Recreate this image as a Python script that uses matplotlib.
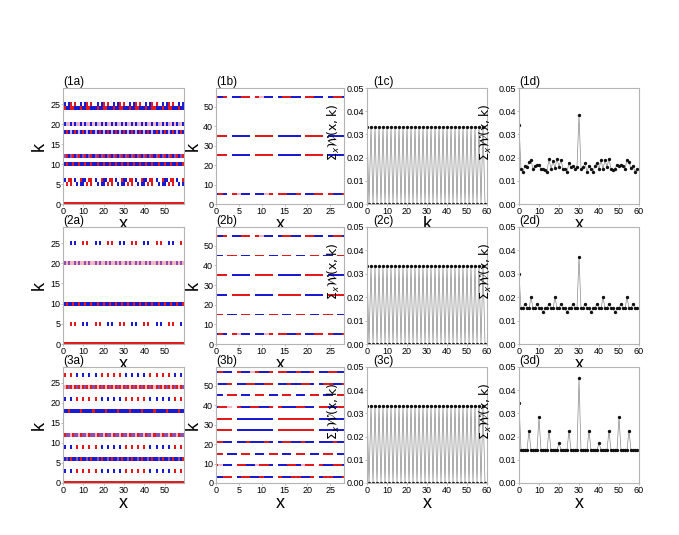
import numpy as np
import matplotlib
matplotlib.use('Agg')
import matplotlib.pyplot as plt
from matplotlib.colors import ListedColormap, BoundaryNorm

plt.rcParams['font.family'] = ['Liberation Sans', 'DejaVu Sans']
plt.rcParams['mathtext.fontset'] = 'dejavusans'

# colour codes used in the density maps
# 0 white, 1 red, 2 blue, 3 pink, 4 purple, 5 light purple, 6 navy
CODE_COLORS = ['#ffffff', '#e3191c', '#1a1ad2', '#f5b5c5', '#8c4fb0', '#cdb0e6', '#1c1a8a']

# ---------------- (1a) ----------------
A1_rows = [0, 5, 6, 10, 12, 18, 20, 24, 25]
A1_patterns = [
    [1],
    [2, 0, 1, 0, 1, 0, 0, 2, 0, 2],
    [2, 2, 0, 1, 1, 0, 2, 0, 0, 1],
    [2, 2, 1],
    [2, 4, 1],
    [5, 2, 1, 2],
    [3, 2, 5, 3, 2],
    [2, 1, 2, 2, 1, 1, 2, 2],
    [0, 2, 0, 2, 1, 0, 1, 0],
]
# ---------------- (2a) ----------------
A2_rows = [0, 5, 10, 20, 25]
A2_patterns = [
    [1],
    [2, 0, 0, 0, 1, 0, 1, 0, 0, 0, 2, 0],
    [2, 2, 1],
    [3, 4, 3, 4, 3],
    [1, 0, 0, 0, 2, 0, 2, 0, 0, 0, 1, 0],
]
# ---------------- (3a) ----------------
A3_rows = [0, 3, 6, 9, 12, 18, 21, 24, 27]
A3_patterns = [
    [1],
    [0, 2, 0, 0, 2, 0, 0, 1, 0, 0, 1, 0, 0, 1, 0, 0, 1, 0, 0, 2, 0, 0, 2, 0],
    [2, 2, 4, 2, 1],
    [0, 2, 0, 0, 2, 0, 0, 1, 0, 0, 1, 0, 0, 1, 0, 0, 1, 0, 0, 2, 0, 0, 2, 0],
    [3, 1, 4, 4],
    [2, 2, 2, 1, 2, 2],
    [0, 2, 0, 0, 2, 0, 0, 1, 0, 0, 1, 0, 0, 1, 0, 0, 1, 0, 0, 2, 0, 0, 2, 0],
    [1, 3, 1, 4],
    [0, 1, 0, 0, 1, 0, 0, 2, 0, 0, 2, 0, 0, 2, 0, 0, 2, 0, 0, 1, 0, 0, 1, 0],
]
# ---------------- (1b) ----------------
B1_rows = [5, 25, 35, 55]
B1_patterns = [
    [2, 1, 2, 0, 1, 3, 2, 2, 0, 2, 2, 3, 1, 0, 1, 1, 2, 2, 1, 0, 2, 2, 1, 1, 0, 1, 2, 2, 1],
    [1, 1, 1, 0, 2, 2, 2, 2, 0, 1, 1, 1, 1, 0, 2, 2, 2, 2, 2, 0, 1, 1, 1, 1, 0, 2, 2, 2, 2],
    [1, 1, 1, 0, 2, 2, 2, 2, 0, 1, 1, 1, 1, 0, 2, 2, 2, 2, 2, 0, 1, 1, 1, 1, 0, 2, 2, 2, 2],
    [1, 2, 1, 0, 2, 2, 1, 1, 0, 1, 3, 2, 2, 0, 2, 1, 1, 2, 2, 0, 1, 1, 2, 2, 0, 2, 1, 1, 2],
]
# ---------------- (2b) ----------------
B2_rows = [5, 15, 25, 35, 45, 55]
B2_patterns = [
    [2, 1, 2, 0, 1, 3, 2, 2, 0, 2, 2, 3, 1, 0, 1, 1, 2, 2, 1, 0, 2, 2, 1, 1, 0, 1, 2, 2, 1],
    [1, 1, 0, 2, 2, 0, 1, 1, 0, 2, 2, 0, 1, 1, 0, 2, 2, 0, 1, 1, 0, 2, 2, 0, 1, 1, 0, 2, 2],
    [2, 2, 2, 0, 1, 1, 1, 1, 0, 2, 2, 2, 2, 0, 1, 1, 1, 1, 1, 0, 2, 2, 2, 2, 0, 1, 1, 1, 1],
    [1, 1, 1, 0, 2, 2, 2, 2, 0, 1, 1, 1, 1, 0, 2, 2, 2, 2, 2, 0, 1, 1, 1, 1, 0, 2, 2, 2, 2],
    [2, 2, 0, 1, 1, 0, 2, 2, 0, 1, 1, 0, 2, 2, 0, 1, 1, 0, 2, 2, 0, 1, 1, 0, 2, 2, 0, 1, 1],
    [1, 2, 1, 0, 2, 2, 1, 1, 0, 1, 3, 2, 2, 0, 2, 1, 1, 2, 2, 0, 1, 1, 2, 2, 0, 2, 1, 1, 2],
]
# ---------------- (3b) ----------------
B3_rows = [3, 9, 15, 21, 27, 33, 39, 45, 51, 57]
B3_patterns = [
    [2, 2, 1, 1, 0, 2, 1, 1, 2, 2, 1, 2, 2, 0, 1, 2, 2, 1, 1, 2, 2, 1, 0, 2, 1, 1, 2, 2, 1],
    [1, 3, 2, 2, 0, 1, 1, 2, 2, 3, 1, 1, 2, 0, 2, 2, 1, 1, 2, 3, 1, 1, 0, 1, 2, 2, 1, 1, 2],
    [1, 1, 0, 2, 2, 0, 1, 1, 0, 2, 2, 0, 1, 1, 0, 2, 2, 0, 1, 1, 0, 2, 2, 0, 1, 1, 0, 2, 2],
    [1, 1, 2, 2, 0, 2, 2, 1, 2, 2, 2, 1, 2, 0, 2, 1, 1, 2, 2, 1, 2, 2, 0, 2, 2, 2, 1, 2, 2],
    [1, 1, 1, 1, 0, 2, 2, 2, 2, 2, 2, 2, 2, 0, 1, 1, 1, 1, 1, 1, 1, 1, 0, 2, 2, 2, 2, 2, 2],
    [1, 1, 1, 1, 0, 2, 2, 2, 2, 2, 2, 2, 2, 0, 1, 1, 1, 1, 1, 1, 1, 1, 0, 2, 2, 2, 2, 2, 2],
    [2, 1, 1, 3, 0, 1, 2, 2, 1, 1, 2, 2, 1, 0, 1, 2, 2, 2, 1, 1, 2, 2, 0, 1, 1, 2, 2, 1, 1],
    [2, 2, 0, 1, 1, 0, 2, 2, 0, 1, 1, 0, 2, 2, 0, 1, 1, 0, 2, 2, 0, 1, 1, 0, 2, 2, 0, 1, 1],
    [3, 2, 2, 1, 0, 2, 2, 1, 1, 2, 2, 1, 1, 0, 2, 2, 1, 2, 2, 1, 1, 2, 0, 2, 1, 1, 2, 2, 1],
    [2, 1, 2, 2, 0, 1, 2, 2, 3, 1, 2, 2, 1, 0, 1, 1, 2, 2, 1, 2, 2, 1, 0, 2, 2, 1, 1, 2, 2],
]

# ---------------- (c) column: sum over x vs k ----------------
C_k = list(range(60))
C_vals = [0.0334, 0.0, 0.0334, 0.0, 0.0334, 0.0, 0.0334, 0.0, 0.0334, 0.0,
          0.0334, 0.0, 0.0334, 0.0, 0.0334, 0.0, 0.0334, 0.0, 0.0334, 0.0,
          0.0334, 0.0, 0.0334, 0.0, 0.0334, 0.0, 0.0334, 0.0, 0.0334, 0.0,
          0.0334, 0.0, 0.0334, 0.0, 0.0334, 0.0, 0.0334, 0.0, 0.0334, 0.0,
          0.0334, 0.0, 0.0334, 0.0, 0.0334, 0.0, 0.0334, 0.0, 0.0334, 0.0,
          0.0334, 0.0, 0.0334, 0.0, 0.0334, 0.0, 0.0334, 0.0, 0.0334, 0.0]

# ---------------- (d) column: sum over k vs x ----------------
D_x = list(range(60))
D1_vals = [0.034, 0.015, 0.014, 0.0165, 0.016, 0.018, 0.019, 0.015, 0.0165, 0.017,
           0.017, 0.015, 0.015, 0.0145, 0.014, 0.0195, 0.015, 0.0185, 0.0155, 0.0195,
           0.016, 0.019, 0.015, 0.015, 0.014, 0.0175, 0.016, 0.0165, 0.015, 0.016,
           0.0384, 0.015, 0.016, 0.0175, 0.014, 0.0165, 0.015, 0.014, 0.0165, 0.0175,
           0.015, 0.019, 0.015, 0.019, 0.016, 0.0195, 0.015, 0.0145, 0.015, 0.017,
           0.0165, 0.017, 0.0165, 0.015, 0.019, 0.018, 0.0155, 0.0165, 0.014, 0.015]
D2_vals = [0.030, 0.0152, 0.0152, 0.0173, 0.0152, 0.0152, 0.0202, 0.0152, 0.0152, 0.0173,
           0.0152, 0.0152, 0.0135, 0.0152, 0.0152, 0.0173, 0.0152, 0.0152, 0.0202, 0.0152,
           0.0152, 0.0173, 0.0152, 0.0152, 0.0135, 0.0152, 0.0152, 0.0173, 0.0152, 0.0152,
           0.0373, 0.0152, 0.0152, 0.0173, 0.0152, 0.0152, 0.0135, 0.0152, 0.0152, 0.0173,
           0.0152, 0.0152, 0.0202, 0.0152, 0.0152, 0.0173, 0.0152, 0.0152, 0.0135, 0.0152,
           0.0152, 0.0173, 0.0152, 0.0152, 0.0202, 0.0152, 0.0152, 0.0173, 0.0152, 0.0152]
D3_vals = [0.0345, 0.0142, 0.0142, 0.0142, 0.0142, 0.0226, 0.0142, 0.0142, 0.0142, 0.0142,
           0.0283, 0.0142, 0.0142, 0.0142, 0.0142, 0.0226, 0.0142, 0.0142, 0.0142, 0.0142,
           0.0174, 0.0142, 0.0142, 0.0142, 0.0142, 0.0226, 0.0142, 0.0142, 0.0142, 0.0142,
           0.0451, 0.0142, 0.0142, 0.0142, 0.0142, 0.0226, 0.0142, 0.0142, 0.0142, 0.0142,
           0.0174, 0.0142, 0.0142, 0.0142, 0.0142, 0.0226, 0.0142, 0.0142, 0.0142, 0.0142,
           0.0283, 0.0142, 0.0142, 0.0142, 0.0142, 0.0226, 0.0142, 0.0142, 0.0142, 0.0142]

A_ROWS = [(A1_rows, A1_patterns), (A2_rows, A2_patterns), (A3_rows, A3_patterns)]
B_ROWS = [(B1_rows, B1_patterns), (B2_rows, B2_patterns), (B3_rows, B3_patterns)]
D_VALS = [D1_vals, D2_vals, D3_vals]
X_LABELS = [['x', 'x', 'k', 'x'], ['x', 'x', '', 'x'], ['x', 'x', 'x', 'x']]
W_LABEL = r'$\Sigma_{x}\mathbf{\mathcal{W}}\mathrm{(x,k)}$'

cmap = ListedColormap(CODE_COLORS)
norm = BoundaryNorm(np.arange(len(CODE_COLORS) + 1) - 0.5, cmap.N)

W, H = 679, 535
fig = plt.figure(figsize=(W / 100, H / 100), dpi=100)

col_left = [63, 216, 367, 519]
col_w = [121, 128, 120, 120]
row_top = [88, 227, 367]
row_h = [116, 117, 116]

SPINE = '#b4b4b4'


def style(ax):
    for s in ax.spines.values():
        s.set_color(SPINE)
        s.set_linewidth(0.8)
    ax.tick_params(axis='both', labelsize=6.5, length=1.5, width=0.6, color=SPINE, pad=0.5)


def build(nx, nk, rows, patterns):
    Z = np.zeros((nk, nx), dtype=int)
    for k, p in zip(rows, patterns):
        Z[k] = np.resize(np.array(p), nx)
    return Z


for r in range(3):
    axes = []
    for c in range(4):
        l, w = col_left[c], col_w[c]
        t, h = row_top[r], row_h[r]
        ax = fig.add_axes([l / W, 1 - (t + h) / H, w / W, h / H])
        style(ax)
        axes.append(ax)

    # (a) map
    ax = axes[0]
    rows, pats = A_ROWS[r]
    Z = build(60, 30, rows, pats)
    ax.pcolormesh(np.arange(61) - 0.5, np.arange(31) - 0.5, Z, cmap=cmap, norm=norm)
    ax.set_xlim(0, 59.5)
    ax.set_ylim(0, 29)
    ax.set_xticks([0, 10, 20, 30, 40, 50])
    ax.set_yticks([0, 5, 10, 15, 20, 25])
    ax.set_ylabel('k', fontsize=13, labelpad=2)

    # (b) map
    ax = axes[1]
    rows, pats = B_ROWS[r]
    Z = build(29, 60, rows, pats)
    ax.pcolormesh(np.arange(30) - 0.5, np.arange(61) - 0.5, Z, cmap=cmap, norm=norm)
    ax.set_xlim(0, 28)
    ax.set_ylim(0, 59.5)
    ax.set_xticks([0, 5, 10, 15, 20, 25])
    ax.set_yticks([0, 10, 20, 30, 40, 50])
    ax.set_ylabel('k', fontsize=13, labelpad=1)

    # (c) line
    ax = axes[2]
    ax.plot(C_k, C_vals, color='#8a8a8a', lw=0.5, marker='o', ms=1.4,
            mfc='#111111', mec='#111111')
    ax.set_ylabel(W_LABEL, fontsize=9)

    # (d) line
    ax = axes[3]
    ax.plot(D_x, D_VALS[r], color='#8a8a8a', lw=0.5, marker='o', ms=1.4,
            mfc='#111111', mec='#111111')
    ax.set_ylabel(W_LABEL, fontsize=9)

    for ax in axes[2:]:
        ax.set_xlim(0, 60)
        ax.set_ylim(0, 0.05)
        ax.set_xticks([0, 10, 20, 30, 40, 50, 60])
        ax.set_yticks([0, 0.01, 0.02, 0.03, 0.04, 0.05])
        ax.set_yticklabels(['0.00', '0.01', '0.02', '0.03', '0.04', '0.05'])
        ax.yaxis.set_label_coords(-0.21, 0.62)

    for c, ax in enumerate(axes):
        if X_LABELS[r][c]:
            ax.set_xlabel(X_LABELS[r][c], fontsize=13, labelpad=0)
        lab = '(%d%s)' % (r + 1, 'abcd'[c])
        xoff = 0.05 if c == 2 else 0.0
        ax.text(xoff, 1.004, lab, transform=ax.transAxes, fontsize=8.5,
                ha='left', va='bottom')

fig.savefig('out.png', dpi=100)
